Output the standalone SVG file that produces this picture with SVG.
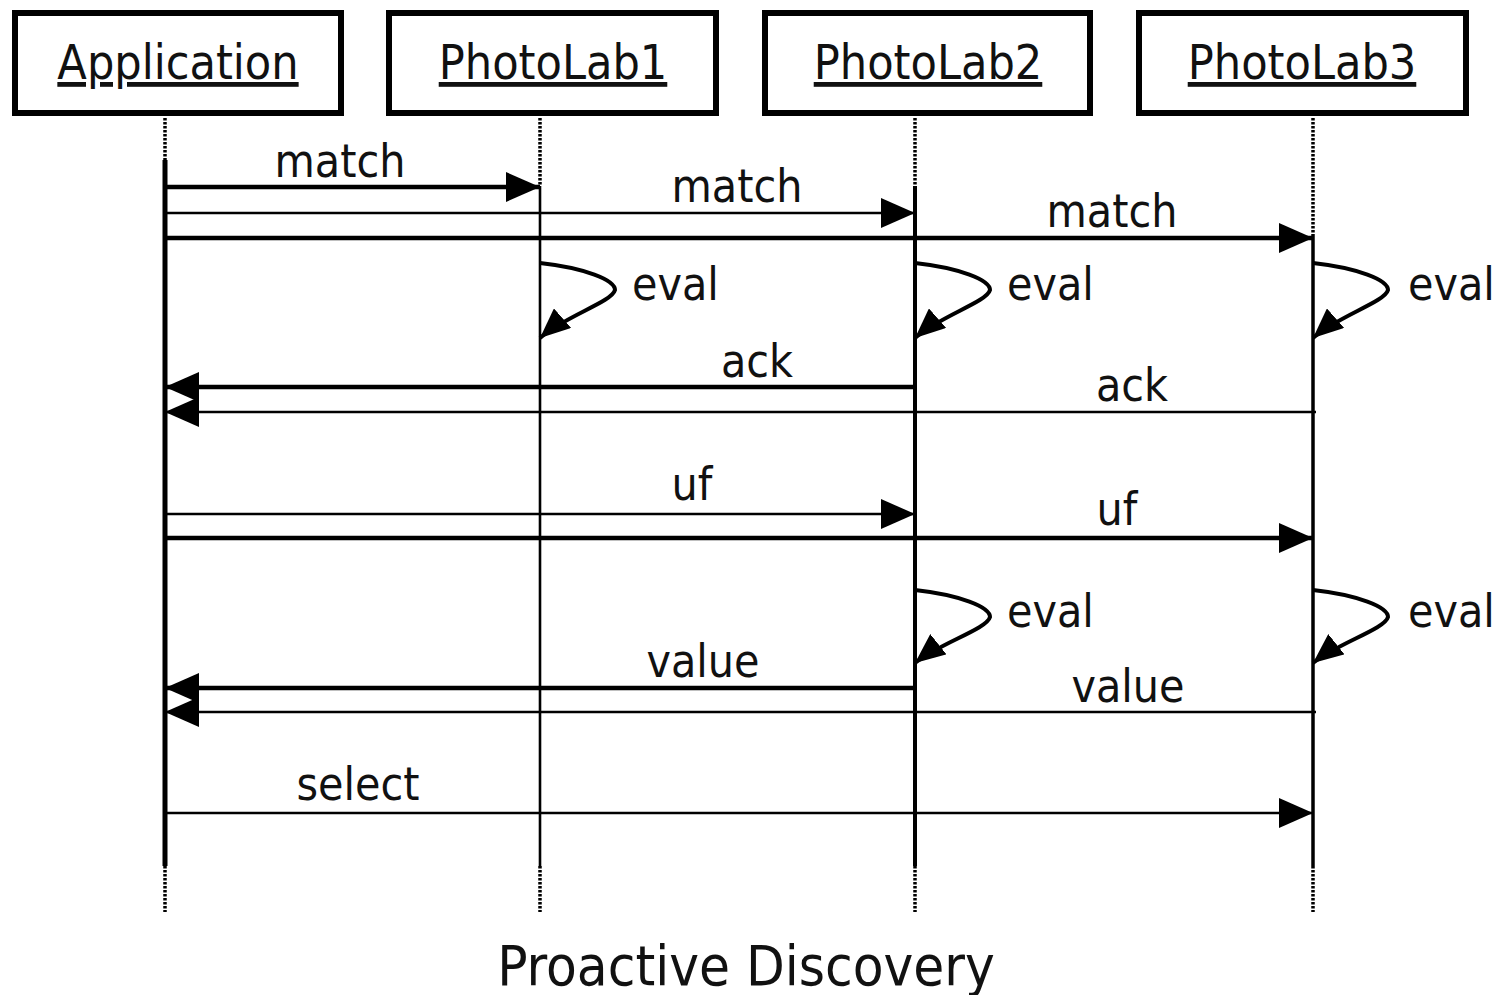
<svg xmlns="http://www.w3.org/2000/svg" width="1504" height="995" viewBox="0 0 1504 995">
<style>
text{font-family:"DejaVu Sans Condensed","DejaVu Sans",Verdana,sans-serif;fill:#111;}
.lbl{font-size:46px;text-anchor:middle;}
.eval{font-size:46px;}
.head{font-size:48px;text-anchor:middle;text-decoration:underline;}
.title{font-size:56px;text-anchor:middle;}
.box{fill:#fff;stroke:#000;stroke-width:6;}
.dot{stroke:#000;stroke-width:3.5;stroke-dasharray:2.5 1.5;fill:none;}
.thick{stroke:#000;stroke-width:4.5;fill:none;}
.thin{stroke:#000;stroke-width:2.6;fill:none;}
.loop{stroke:#000;stroke-width:4;fill:none;}
</style>
<defs>
<marker id="ah" viewBox="0 0 34 30" refX="34" refY="15" markerWidth="34" markerHeight="30" markerUnits="userSpaceOnUse" orient="auto"><path d="M0,0 L34,15 L0,30 Z" fill="#000"/></marker>
<marker id="ahs" viewBox="0 0 30 26" refX="30" refY="13" markerWidth="30" markerHeight="26" markerUnits="userSpaceOnUse" orient="auto"><path d="M0,0 L30,13 L0,26 Z" fill="#000"/></marker>
</defs>

<g id="application">
<rect class="box" x="15" y="13" width="326" height="100"/>
<text class="head" x="178" y="79">Application</text>
<line class="dot" x1="165" y1="118" x2="165" y2="160"/>
<line stroke="#000" stroke-width="5" x1="165" y1="160" x2="165" y2="866"/>
<line class="dot" x1="165" y1="866" x2="165" y2="912"/>
</g>
<g id="photolab1">
<rect class="box" x="389" y="13" width="327" height="100"/>
<text class="head" x="553" y="79">PhotoLab1</text>
<line class="dot" x1="540" y1="118" x2="540" y2="186"/>
<line stroke="#000" stroke-width="2.6" x1="540" y1="186" x2="540" y2="866"/>
<line class="dot" x1="540" y1="866" x2="540" y2="912"/>
</g>
<g id="photolab2">
<rect class="box" x="765" y="13" width="325" height="100"/>
<text class="head" x="928" y="79">PhotoLab2</text>
<line class="dot" x1="915" y1="118" x2="915" y2="186"/>
<line stroke="#000" stroke-width="4" x1="915" y1="186" x2="915" y2="866"/>
<line class="dot" x1="915" y1="866" x2="915" y2="912"/>
</g>
<g id="photolab3">
<rect class="box" x="1139" y="13" width="327" height="100"/>
<text class="head" x="1302" y="79">PhotoLab3</text>
<line class="dot" x1="1313" y1="118" x2="1313" y2="236"/>
<line stroke="#000" stroke-width="3.5" x1="1313" y1="236" x2="1313" y2="866"/>
<line class="dot" x1="1313" y1="866" x2="1313" y2="912"/>
</g>

<g id="connectors">
<line class="thick" x1="165" y1="187" x2="540" y2="187" marker-end="url(#ah)"/>
<line class="thin" x1="165" y1="213" x2="915" y2="213" marker-end="url(#ah)"/>
<line class="thick" x1="165" y1="238" x2="1313" y2="238" marker-end="url(#ah)"/>
<path class="loop" d="M540,263 C585,268 615,280 615,290 C612,302 565,316 540,338" marker-end="url(#ahs)"/>
<path class="loop" d="M915,263 C960,268 990,280 990,290 C987,302 940,316 915,338" marker-end="url(#ahs)"/>
<path class="loop" d="M1313,263 C1358,268 1388,280 1388,290 C1385,302 1338,316 1313,338" marker-end="url(#ahs)"/>
<line class="thick" x1="915" y1="387" x2="165" y2="387" marker-end="url(#ah)"/>
<line class="thin" x1="1316" y1="412" x2="165" y2="412" marker-end="url(#ah)"/>
<line class="thin" x1="165" y1="514" x2="915" y2="514" marker-end="url(#ah)"/>
<line class="thick" x1="165" y1="538" x2="1313" y2="538" marker-end="url(#ah)"/>
<path class="loop" d="M915,590 C960,595 990,607 990,617 C987,629 940,643 915,663" marker-end="url(#ahs)"/>
<path class="loop" d="M1313,590 C1358,595 1388,607 1388,617 C1385,629 1338,643 1313,663" marker-end="url(#ahs)"/>
<line class="thick" x1="915" y1="688" x2="165" y2="688" marker-end="url(#ah)"/>
<line class="thin" x1="1316" y1="712" x2="165" y2="712" marker-end="url(#ah)"/>
<line class="thin" x1="165" y1="813" x2="1313" y2="813" marker-end="url(#ah)"/>
</g>

<g id="labels">
<text class="lbl" x="340" y="177">match</text>
<text class="lbl" x="737" y="202">match</text>
<text class="lbl" x="1112" y="227">match</text>
<text class="eval" x="632" y="300">eval</text>
<text class="eval" x="1007" y="300">eval</text>
<text class="eval" x="1408" y="300">eval</text>
<text class="lbl" x="757" y="377">ack</text>
<text class="lbl" x="1132" y="401">ack</text>
<text class="lbl" x="692" y="500">uf</text>
<text class="lbl" x="1117" y="525">uf</text>
<text class="eval" x="1007" y="627">eval</text>
<text class="eval" x="1408" y="627">eval</text>
<text class="lbl" x="703" y="677">value</text>
<text class="lbl" x="1128" y="702">value</text>
<text class="lbl" x="358" y="800">select</text>
<text class="title" x="746" y="985">Proactive Discovery</text>
</g>
</svg>
